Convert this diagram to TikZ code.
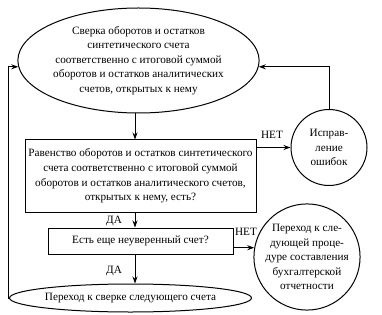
\documentclass[tikz,border=0pt]{standalone}
\usepackage{fontspec}
\setmainfont{Liberation Serif}
\usetikzlibrary{shapes.geometric,arrows.meta,calc}
\begin{document}
\begin{tikzpicture}[x=1pt,y=-1pt,
  every node/.style={font=\fontsize{11.2}{14.6}\selectfont},
  ln/.style={line width=1pt},
  arr/.style={ln,-{Stealth[length=7pt,width=5pt]}},
  oval/.style={ln,draw,ellipse,inner sep=0pt,align=center},
  boxn/.style={ln,draw,rectangle,inner sep=0pt,align=center},
  circ/.style={ln,draw,circle,inner sep=0pt,align=center},
  lbl/.style={inner sep=0pt}]
\useasboundingbox (0,0) rectangle (382,315);
\node[oval,minimum width=238pt,minimum height=105pt] (e1) at (138.5,60.5)
  {Сверка оборотов и остатков\\синтетического счета\\соответственно с итоговой суммой\\оборотов и остатков аналитических\\счетов, открытых к нему};
\node[boxn,minimum width=231pt,minimum height=72pt] (r1) at (140.5,176)
  {Равенство оборотов и остатков синтетического\\счета соответственно с итоговой суммой\\оборотов и остатков аналитического счетов,\\открытых к нему, есть?};
\node[boxn,minimum width=185pt,minimum height=26pt] (r2) at (140.5,241)
  {Есть еще неуверенный счет?};
\node[oval,minimum width=235pt,minimum height=28pt] (e2) at (130.5,298)
  {Переход к сверке следующего счета};
\node[circ,minimum size=76pt] (c1) at (329,147.5)
  {Исправ-\\ление\\ошибок};
\node[circ,minimum size=104pt] (c2) at (307,257)
  {Переход к сле-\\дующей проце-\\дуре составления\\бухгалтерской\\отчетности};
\draw[arr] (e1.south -| 135,0) -- (r1.north -| 135,0);
\draw[arr] (r1.south -| 135,0) -- (r2.north -| 135,0);
\draw[arr] (r2.south -| 135,0) -- (e2.north -| 135,0);
\draw[arr] (c1.west -| r1.east) -- (c1.west);
\draw[arr] (c1.north) |- (e1.-3);
\draw[arr] (c2.170 -| r2.east) -- (c2.170);
\draw[arr] (e2.west) -- ($(e2.west)+(-1,0)$) |- (e1.183);
\node[lbl] (n1) at (272,135) {НЕТ};
\node[lbl] (n2) at (246,232) {НЕТ};
\node[lbl] (d1) at (114,221) {ДА};
\node[lbl] (d2) at (114,271) {ДА};
\end{tikzpicture}
\end{document}
